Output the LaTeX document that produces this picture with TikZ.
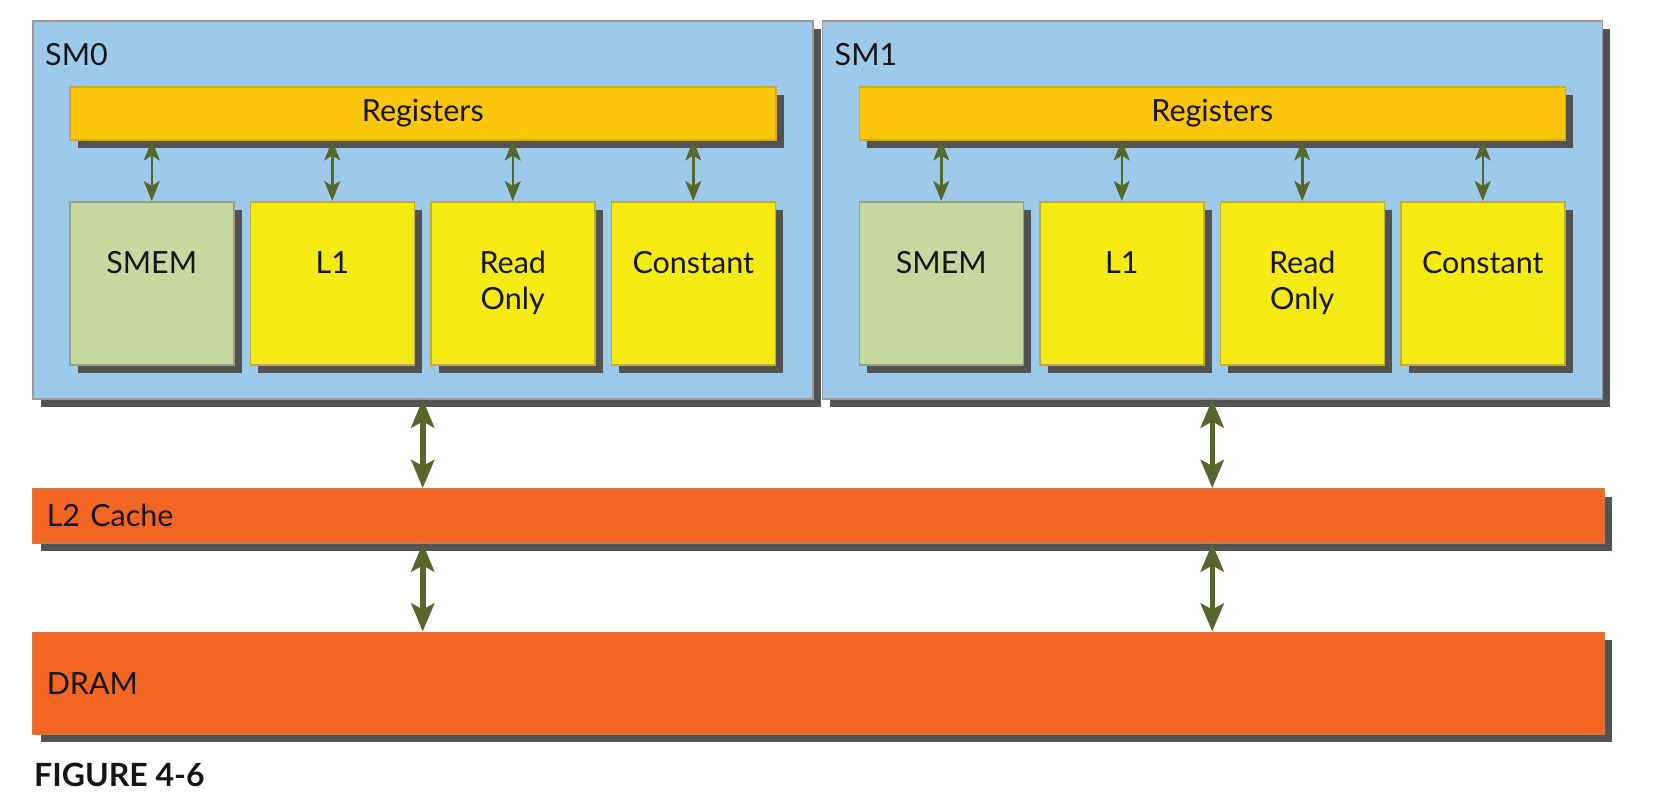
\documentclass[tikz,border=0pt]{standalone}
\usepackage{fontspec}
\setmainfont{Lato}
\usetikzlibrary{positioning,shadows,arrows.meta}
\definecolor{SMBlue}{HTML}{9DCAEA}
\definecolor{SMLine}{HTML}{9A9A9A}
\definecolor{RegGold}{HTML}{FAC60B}
\definecolor{RegLine}{HTML}{D6A62C}
\definecolor{SmemGreen}{HTML}{C5D89F}
\definecolor{SmemLine}{HTML}{94A184}
\definecolor{CacheYellow}{HTML}{F5EA14}
\definecolor{CacheLine}{HTML}{BCAF38}
\definecolor{MemOrange}{HTML}{F26522}
\definecolor{MemLine}{HTML}{CF7A40}
\definecolor{Shade}{HTML}{525252}
\definecolor{Olive}{HTML}{55672B}
\definecolor{Ink}{HTML}{151515}

\begin{document}
\begin{tikzpicture}[
    font=\fontsize{30.5}{36}\selectfont,text=Ink,
    shade8/.style={drop shadow={shadow xshift=8pt,shadow yshift=-8pt,fill=Shade,opacity=1}},
    sm/.style={draw=SMLine,line width=1.5pt,fill=SMBlue,shade8,minimum width=780pt,minimum height=378pt,inner sep=0pt,
               label={[anchor=base west,inner sep=0pt,xshift=13pt,yshift=-45pt]north west:#1}},
    regs/.style={draw=RegLine,line width=1.5pt,fill=RegGold,shade8,minimum width=706pt,minimum height=53pt,inner sep=0pt},
    cell/.style={draw=CacheLine,line width=1.5pt,fill=CacheYellow,shade8,minimum width=164pt,minimum height=163pt,inner sep=0pt,
                 label={[anchor=north,align=center,inner sep=0pt,yshift=-50pt]north:#1}},
    smem/.style={cell=#1,draw=SmemLine,fill=SmemGreen},
    band/.style={draw=MemLine,line width=1.5pt,fill=MemOrange,shade8,text width=1543pt,inner xsep=14pt,inner ysep=0pt,align=left},
    link/.style={{Stealth[length=20pt,width=16pt,inset=5pt]}-{Stealth[length=20pt,width=16pt,inset=5pt]},line width=2.5pt,Olive},
    bus/.style={{Stealth[length=28pt,width=23pt,inset=6pt]}-{Stealth[length=28pt,width=23pt,inset=6pt]},line width=5.5pt,Olive}
  ]
    \useasboundingbox (0,0) rectangle (1655pt,-809pt);
    \node[sm=SM0,anchor=north west] (sm0) at (32pt,-20pt) {};
    \node[sm=SM1,right=8pt of sm0] (sm1) {};

    \node[regs,anchor=north west] (reg0) at ([shift={(37pt,-66pt)}]sm0.north west) {Registers};
    \node[smem=SMEM,anchor=north west] (smem0) at ([shift={(37pt,-181pt)}]sm0.north west) {};
    \node[cell=L1,right=15pt of smem0] (lone0) {};
    \node[cell={Read\\Only},right=15pt of lone0] (ro0) {};
    \node[cell=Constant,right=15pt of ro0] (const0) {};

    \node[regs,anchor=north west] (reg1) at ([shift={(37pt,-66pt)}]sm1.north west) {Registers};
    \node[smem=SMEM,anchor=north west] (smem1) at ([shift={(37pt,-181pt)}]sm1.north west) {};
    \node[cell=L1,right=15pt of smem1] (lone1) {};
    \node[cell={Read\\Only},right=15pt of lone1] (ro1) {};
    \node[cell=Constant,right=15pt of ro1] (const1) {};

    \node[band,anchor=north west,minimum height=54pt] (l2) at (32pt,-488pt) {L2 Cache};
    \node[band,below=88pt of l2,minimum height=102pt] (dram) {DRAM};
    \node[anchor=base west,inner sep=0pt,font=\fontsize{32}{38}\selectfont\bfseries] (fig) at (34pt,-786pt) {FIGURE 4-6};

    \draw[link] (smem0.north |- reg0.south) -- (smem0.north); \draw[link] (lone0.north |- reg0.south) -- (lone0.north);
    \draw[link] (ro0.north |- reg0.south) -- (ro0.north); \draw[link] (const0.north |- reg0.south) -- (const0.north);
    \draw[link] (smem1.north |- reg1.south) -- (smem1.north); \draw[link] (lone1.north |- reg1.south) -- (lone1.north);
    \draw[link] (ro1.north |- reg1.south) -- (ro1.north); \draw[link] (const1.north |- reg1.south) -- (const1.north);

    \draw[bus] (sm0.south) -- (sm0.south |- l2.north); \draw[bus] (sm1.south) -- (sm1.south |- l2.north);
    \draw[bus] (sm0.south |- l2.south) -- (sm0.south |- dram.north); \draw[bus] (sm1.south |- l2.south) -- (sm1.south |- dram.north);
  \end{tikzpicture}
\end{document}
